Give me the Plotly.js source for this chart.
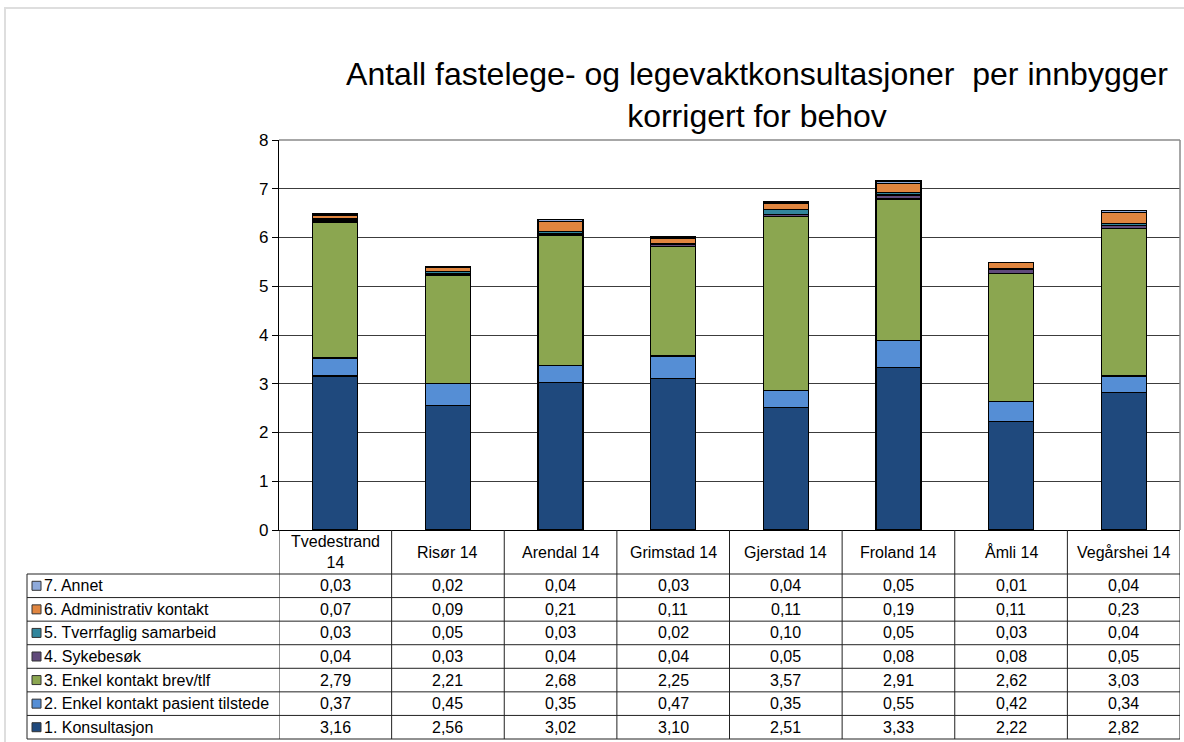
<!DOCTYPE html>
<html>
<head>
<meta charset="utf-8">
<script src="https://cdn.plot.ly/plotly-3.0.1.min.js"></script>
<style>
  html, body { margin: 0; padding: 0; background: #ffffff; }
  #chart { width: 1184px; height: 742px; }
</style>
</head>
<body>
<div id="chart"></div>
<script>
// ---- Data ----
const categories = ["Tvedestrand 14", "Risør 14", "Arendal 14", "Grimstad 14", "Gjerstad 14", "Froland 14", "Åmli 14", "Vegårshei 14"];
const seriesNames = ["1. Konsultasjon", "2. Enkel kontakt pasient tilstede", "3. Enkel kontakt brev/tlf", "4. Sykebesøk", "5. Tverrfaglig samarbeid", "6. Administrativ kontakt", "7. Annet"];
const konsultasjon    = [3.16, 2.56, 3.02, 3.10, 2.51, 3.33, 2.22, 2.82];
const pasientTilstede = [0.37, 0.45, 0.35, 0.47, 0.35, 0.55, 0.42, 0.34];
const brevTlf         = [2.79, 2.21, 2.68, 2.25, 3.57, 2.91, 2.62, 3.03];
const sykebesok       = [0.04, 0.03, 0.04, 0.04, 0.05, 0.08, 0.08, 0.05];
const tverrfaglig     = [0.03, 0.05, 0.03, 0.02, 0.10, 0.05, 0.03, 0.04];
const administrativ   = [0.07, 0.09, 0.21, 0.11, 0.11, 0.19, 0.11, 0.23];
const annet           = [0.03, 0.02, 0.04, 0.03, 0.04, 0.05, 0.01, 0.04];
const yTicks = [0, 1, 2, 3, 4, 5, 6, 7, 8];
const titleLine1 = "Antall fastelege- og legevaktkonsultasjoner  per innbygger";
const titleLine2 = "korrigert for behov";

// ---- Styles ----
const seriesValues = [konsultasjon, pasientTilstede, brevTlf, sykebesok, tverrfaglig, administrativ, annet];
const seriesColors = ["#1F497D", "#558ED5", "#8BA650", "#604A7B", "#31859C", "#E0853F", "#8EAADB"];

const W = 1184, H = 742;
const plotL = 279, plotR = 1180, plotT = 140, plotB = 530;
const pw = plotR - plotL, ph = plotB - plotT;
const px = p => (p - plotL) / pw;       // pixel x -> paper x
const py = p => (plotB - p) / ph;       // pixel y -> paper y

const tableLeft = 27;
const headerBottom = 574;
const tableBottom = 739;
const nRows = seriesNames.length;
const rowH = (tableBottom - headerBottom) / nRows;
const fontFam = "Liberation Sans, Arial, Helvetica, sans-serif";
const tableFont = 16;

const traces = seriesValues.map((vals, k) => ({
  type: "bar",
  name: seriesNames[k],
  x: categories,
  y: vals,
  marker: { color: seriesColors[k], line: { color: "#000000", width: 1.2 } },
  showlegend: false,
  hoverinfo: "name+y"
}));

const shapes = [];
const annotations = [];

// outer light border
shapes.push({ type: "rect", xref: "paper", yref: "paper",
  x0: px(5), x1: px(1200), y0: py(8), y1: py(760),
  line: { color: "#dedede", width: 2 }, fillcolor: "rgba(0,0,0,0)", layer: "below" });

// plot area top/right border (gray)
shapes.push({ type: "line", xref: "paper", yref: "paper", x0: 0, x1: 1, y0: 1, y1: 1,
  line: { color: "#8a8a8a", width: 1.5 } });
shapes.push({ type: "line", xref: "paper", yref: "paper", x0: 1, x1: 1, y0: 0, y1: 1,
  line: { color: "#8a8a8a", width: 1.5 } });

// table vertical lines at category boundaries
for (let i = 0; i <= categories.length; i++) {
  shapes.push({ type: "line", xref: "x", yref: "paper",
    x0: i - 0.5, x1: i - 0.5, y0: 0, y1: py(tableBottom),
    line: { color: "#222222", width: 1 } });
}
// left label column border
shapes.push({ type: "line", xref: "paper", yref: "paper",
  x0: px(tableLeft), x1: px(tableLeft), y0: py(headerBottom), y1: py(tableBottom),
  line: { color: "#222222", width: 1 } });
// horizontal row lines
for (let r = 0; r <= nRows; r++) {
  const yy = py(headerBottom + r * rowH);
  shapes.push({ type: "line", xref: "paper", yref: "paper",
    x0: px(tableLeft), x1: 1, y0: yy, y1: yy,
    line: { color: "#222222", width: 1 } });
}

// header labels
categories.forEach((c, i) => {
  const txt = c.length > 13 ? c.replace(/ (\S+)$/, "<br>$1") : c;
  annotations.push({ xref: "x", yref: "paper", x: i, y: py((plotB + headerBottom) / 2),
    text: txt, showarrow: false, xanchor: "center", yanchor: "middle",
    font: { family: fontFam, size: tableFont, color: "#000" } });
});

// rows: top row = last series
for (let r = 0; r < nRows; r++) {
  const k = nRows - 1 - r;
  const yc = headerBottom + (r + 0.5) * rowH;
  // legend key square
  shapes.push({ type: "rect", xref: "paper", yref: "paper",
    x0: px(32), x1: px(41), y0: py(yc + 4.5), y1: py(yc - 4.5),
    fillcolor: seriesColors[k], line: { color: "#333333", width: 1 } });
  annotations.push({ xref: "paper", yref: "paper", x: px(42), y: py(yc),
    text: seriesNames[k], showarrow: false, xanchor: "left", yanchor: "middle",
    font: { family: fontFam, size: tableFont, color: "#000" } });
  seriesValues[k].forEach((v, i) => {
    annotations.push({ xref: "x", yref: "paper", x: i, y: py(yc),
      text: v.toFixed(2).replace(".", ","), showarrow: false,
      xanchor: "center", yanchor: "middle",
      font: { family: fontFam, size: tableFont, color: "#000" } });
  });
}

const layout = {
  width: W, height: H,
  margin: { l: plotL, r: W - plotR, t: plotT, b: H - plotB, pad: 0 },
  paper_bgcolor: "#ffffff",
  plot_bgcolor: "#ffffff",
  barmode: "stack",
  bargap: 0.6,
  font: { family: fontFam, color: "#000" },
  title: {
    text: titleLine1 + "<br>" + titleLine2,
    font: { family: fontFam, size: 32, color: "#000" },
    xref: "container", yref: "container",
    x: 757 / W, xanchor: "center",
    y: 1 - 85 / H, yanchor: "top"
  },
  xaxis: {
    type: "category",
    categoryarray: categories,
    range: [-0.5, categories.length - 0.5],
    showticklabels: false,
    ticks: "",
    showgrid: false,
    showline: true, linecolor: "#000", linewidth: 1.2,
    zeroline: false, fixedrange: true
  },
  yaxis: {
    range: [0, 8],
    tickvals: yTicks,
    ticktext: yTicks.map(String),
    ticks: "outside", ticklen: 6, tickcolor: "#000", tickwidth: 1,
    tickfont: { family: fontFam, size: 17, color: "#000" },
    showgrid: true, gridcolor: "#3c3c3c", gridwidth: 1,
    showline: true, linecolor: "#000", linewidth: 1.2,
    zeroline: false, fixedrange: true
  },
  shapes: shapes,
  annotations: annotations
};

Plotly.newPlot("chart", traces, layout, { displayModeBar: false, staticPlot: true });
</script>
</body>
</html>
